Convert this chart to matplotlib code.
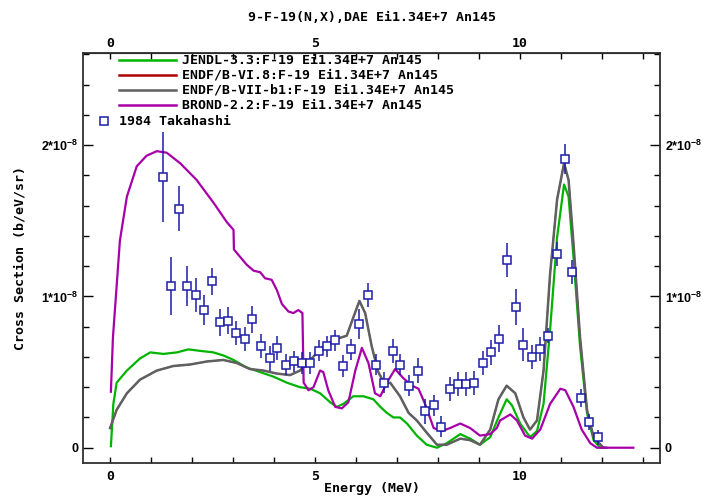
import matplotlib

matplotlib.use("Agg")
import matplotlib.pyplot as plt
from matplotlib.ticker import MultipleLocator, FixedLocator

plt.rcParams["mathtext.default"] = "regular"

# ---- data (energy in MeV, cross section in units of 1e-8 b/eV/sr) ----
jendl_e = [0.02, 0.08, 0.16, 0.41, 0.73, 0.98, 1.30, 1.63, 1.91, 2.20, 2.52, 2.76,
           3.01, 3.33, 3.66, 3.98, 4.31, 4.63, 4.88, 5.12, 5.37, 5.53, 5.69, 5.93,
           6.18, 6.42, 6.59, 6.75, 6.91, 7.07, 7.24, 7.48, 7.72, 7.97, 8.21, 8.54,
           8.78, 9.02, 9.27, 9.47, 9.67, 9.80, 10.00, 10.24, 10.41, 10.57, 10.73,
           10.90, 11.07, 11.18, 11.30, 11.46, 11.63, 11.79, 11.95, 12.05]
jendl_y = [0.01, 0.29, 0.43, 0.51, 0.59, 0.63, 0.62, 0.63, 0.65, 0.64, 0.63, 0.61,
           0.58, 0.53, 0.50, 0.47, 0.43, 0.40, 0.39, 0.36, 0.30, 0.27, 0.29, 0.34,
           0.34, 0.32, 0.27, 0.23, 0.20, 0.20, 0.16, 0.08, 0.02, 0.00, 0.03, 0.09,
           0.06, 0.02, 0.07, 0.20, 0.32, 0.28, 0.16, 0.07, 0.11, 0.29, 0.78,
           1.39, 1.74, 1.66, 1.26, 0.67, 0.23, 0.05, 0.00, 0.00]

endf7_e = [0.00, 0.16, 0.41, 0.73, 1.14, 1.54, 1.95, 2.36, 2.76, 3.09, 3.41, 3.74,
           4.07, 4.39, 4.63, 4.88, 5.20, 5.53, 5.77, 5.93, 6.08, 6.22, 6.38, 6.54,
           6.70, 6.83, 7.07, 7.28, 7.48, 7.72, 7.97, 8.21, 8.54, 8.78, 9.02, 9.27,
           9.47, 9.67, 9.88, 10.08, 10.24, 10.41, 10.57, 10.73, 10.90, 11.07, 11.18,
           11.30, 11.46, 11.63, 11.79, 12.03, 12.10]
endf7_y = [0.13, 0.25, 0.36, 0.45, 0.51, 0.54, 0.55, 0.57, 0.58, 0.56, 0.52, 0.51,
           0.49, 0.48, 0.51, 0.58, 0.67, 0.72, 0.74, 0.86, 0.97, 0.89, 0.67, 0.50,
           0.42, 0.43, 0.34, 0.23, 0.18, 0.10, 0.02, 0.02, 0.06, 0.05, 0.02, 0.12,
           0.32, 0.41, 0.36, 0.20, 0.12, 0.18, 0.51, 1.15, 1.64, 1.88, 1.77,
           1.35, 0.73, 0.25, 0.07, 0.00, 0.00]

# ENDF/B-VI.8 coincides with ENDF/B-VII-b1 (hidden below it)
endf6_e = endf7_e
endf6_y = endf7_y

brond_e = [0.02, 0.07, 0.24, 0.41, 0.65, 0.89, 1.14, 1.38, 1.71, 2.11, 2.52, 2.85,
           3.01, 3.02, 3.33, 3.50, 3.66, 3.78, 3.94, 4.07, 4.19, 4.35, 4.47, 4.59,
           4.69, 4.72, 4.84, 4.96, 5.12, 5.20, 5.32, 5.49, 5.65, 5.81, 5.98, 6.14,
           6.30, 6.46, 6.59, 6.75, 6.95, 7.15, 7.36, 7.52, 7.68, 7.89, 8.09, 8.29,
           8.54, 8.78, 9.02, 9.27, 9.43, 9.51, 9.76, 9.92, 10.12, 10.29, 10.49,
           10.73, 10.98, 11.10, 11.30, 11.50, 11.71, 11.87, 12.76]
brond_y = [0.37, 0.73, 1.37, 1.66, 1.86, 1.93, 1.96, 1.95, 1.88, 1.77, 1.62, 1.49,
           1.44, 1.31, 1.21, 1.17, 1.16, 1.12, 1.11, 1.04, 0.95, 0.90, 0.89, 0.91,
           0.89, 0.43, 0.38, 0.40, 0.51, 0.50, 0.38, 0.27, 0.26, 0.30, 0.51, 0.66,
           0.56, 0.36, 0.34, 0.43, 0.52, 0.46, 0.41, 0.39, 0.29, 0.13, 0.11, 0.13,
           0.16, 0.13, 0.08, 0.09, 0.13, 0.18, 0.22, 0.18, 0.08, 0.06, 0.12,
           0.29, 0.39, 0.38, 0.27, 0.12, 0.03, 0.00, 0.00]

exp_e = [1.28, 1.49, 1.67, 1.88, 2.09, 2.28, 2.49, 2.69, 2.88, 3.08, 3.28, 3.47,
         3.68, 3.89, 4.07, 4.28, 4.48, 4.67, 4.87, 5.09, 5.29, 5.49, 5.69, 5.88,
         6.08, 6.28, 6.48, 6.67, 6.89, 7.07, 7.29, 7.50, 7.68, 7.89, 8.08, 8.28,
         8.49, 8.68, 8.88, 9.09, 9.29, 9.48, 9.69, 9.89, 10.08, 10.29, 10.49,
         10.68, 10.90, 11.10, 11.27, 11.48, 11.69, 11.90]
exp_y = [1.79, 1.07, 1.58, 1.07, 1.01, 0.91, 1.10, 0.83, 0.84, 0.76, 0.72, 0.85,
         0.67, 0.59, 0.66, 0.55, 0.57, 0.56, 0.56, 0.64, 0.67, 0.71, 0.54, 0.65,
         0.82, 1.01, 0.55, 0.43, 0.64, 0.55, 0.41, 0.51, 0.24, 0.28, 0.14, 0.39,
         0.42, 0.42, 0.43, 0.56, 0.63, 0.72, 1.24, 0.93, 0.68, 0.60, 0.65,
         0.74, 1.28, 1.91, 1.16, 0.33, 0.17, 0.07]
exp_err = [0.30, 0.19, 0.15, 0.13, 0.11, 0.10, 0.09, 0.09, 0.09, 0.08, 0.08, 0.09,
           0.08, 0.08, 0.08, 0.07, 0.07, 0.07, 0.07, 0.07, 0.07, 0.07, 0.07, 0.07,
           0.10, 0.08, 0.07, 0.07, 0.08, 0.07, 0.07, 0.08, 0.08, 0.07, 0.07, 0.08,
           0.08, 0.08, 0.08, 0.08, 0.08, 0.09, 0.11, 0.12, 0.11, 0.08, 0.08,
           0.05, 0.08, 0.10, 0.08, 0.06, 0.05, 0.05]

labels = ["JENDL-3.3:F-19 Ei1.34E+7 An145",
          "ENDF/B-VI.8:F-19 Ei1.34E+7 An145",
          "ENDF/B-VII-b1:F-19 Ei1.34E+7 An145",
          "BROND-2.2:F-19 Ei1.34E+7 An145"]
exp_label = "1984 Takahashi"
ytick_labels = ["0", "1*10$^{-8}$", "2*10$^{-8}$"]
colors = ["#00b400", "#b00000", "#606060", "#a800a8"]
blue = "#1c1ca8"

mono = {"family": "DejaVu Sans Mono", "weight": "bold", "size": 9.5}

fig = plt.figure(figsize=(7.15, 4.97), dpi=100)
ax = fig.add_axes([0.1161, 0.0684, 0.9231 - 0.1161, 0.8934 - 0.0684])

ax.plot(jendl_e, jendl_y, color=colors[0], lw=1.6)
ax.plot(endf6_e, endf6_y, color=colors[1], lw=1.0)
ax.plot(endf7_e, endf7_y, color=colors[2], lw=1.8)
ax.plot(brond_e, brond_y, color=colors[3], lw=1.6)
ax.errorbar(exp_e, exp_y, yerr=exp_err, fmt="s", ms=6, mfc="white", mec=blue,
            mew=1.1, ecolor=blue, elinewidth=1.1, capsize=0, zorder=5)

ax.set_xlim(-0.66, 13.41)
ax.set_ylim(-0.101, 2.609)

ax.xaxis.set_major_locator(FixedLocator([0, 5, 10]))
ax.xaxis.set_minor_locator(MultipleLocator(1))
ax.yaxis.set_major_locator(FixedLocator([0, 1, 2]))
ax.yaxis.set_minor_locator(MultipleLocator(0.2))
ax.tick_params(axis="x", which="both", direction="in", length=4, width=1,
               top=True, bottom=True, pad=5)
ax.tick_params(axis="y", which="major", direction="in", length=7, width=1,
               left=True, right=True, labelright=True)
ax.tick_params(axis="y", which="minor", direction="in", length=4, width=1,
               left=True, right=True)
for lab in ax.get_xticklabels():
    lab.set_fontproperties(mono)

top = ax.secondary_xaxis("top")
top.xaxis.set_major_locator(FixedLocator([0, 5, 10]))
top.tick_params(axis="x", which="both", length=0, pad=2)
for lab in top.get_xticklabels():
    lab.set_fontproperties(mono)

ax.set_yticklabels(ytick_labels)
for tk in ax.yaxis.get_major_ticks():
    for lab in (tk.label1, tk.label2):
        lab.set_fontfamily("Liberation Sans")
        lab.set_fontweight("bold")
        lab.set_fontsize(9)
for side in ax.spines.values():
    side.set_linewidth(1.3)
    side.set_color("#303030")

ax.set_xlabel("Energy (MeV)", fontdict=mono, labelpad=-0.5)
ax.set_ylabel("Cross Section (b/eV/sr)", fontdict=mono, labelpad=10)
fig.text(0.52, 0.965, "9-F-19(N,X),DAE Ei1.34E+7 An145", ha="center", va="center",
         fontdict=mono)

# legend drawn in axes fraction
row_y = [0.982, 0.946, 0.909, 0.873, 0.834]
for i in range(4):
    ax.plot([0.062, 0.161], [row_y[i], row_y[i]], transform=ax.transAxes,
            color=colors[i], lw=1.8, clip_on=False)
    ax.text(0.171, row_y[i], labels[i], transform=ax.transAxes, va="center",
            ha="left", fontdict=mono)
ax.plot([0.036], [row_y[4]], transform=ax.transAxes, marker="s", ms=6,
        mfc="white", mec=blue, mew=1.1, ls="none")
ax.text(0.063, row_y[4], exp_label, transform=ax.transAxes, va="center",
        ha="left", fontdict=mono)

fig.savefig("out.png", dpi=100)
